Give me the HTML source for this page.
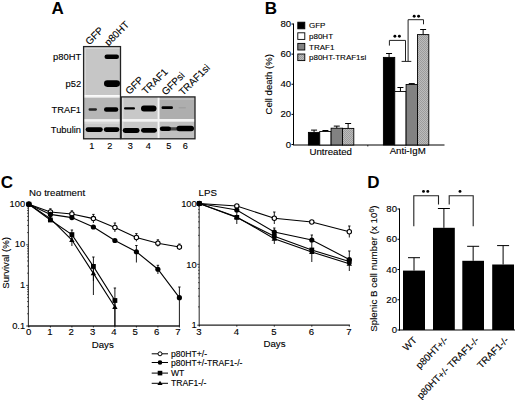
<!DOCTYPE html>
<html><head><meta charset="utf-8"><style>
html,body{margin:0;padding:0;background:#fff;}
svg{display:block;font-family:"Liberation Sans", sans-serif;}
text{stroke:#000;stroke-width:0.12px;fill:#000;}
text[font-weight=bold]{stroke:none;}
</style></head><body>
<svg width="520" height="400" viewBox="0 0 520 400">
<defs>
<filter id="bl" x="-20%" y="-50%" width="140%" height="200%"><feGaussianBlur stdDeviation="0.5"/></filter>
<pattern id="hatch" width="2" height="2" patternUnits="userSpaceOnUse"><rect width="2" height="2" fill="#bcbcbc"/><rect width="1" height="1" fill="#9c9c9c"/><rect x="1" y="1" width="1" height="1" fill="#9c9c9c"/></pattern>
</defs>
<rect width="520" height="400" fill="#fff"/>
<text x="51.4" y="14.3" font-size="17" text-anchor="start" font-weight="bold" >A</text>
<text transform="translate(89.5,45.5) rotate(-45)" font-size="10" text-anchor="start">GFP</text>
<text transform="translate(108.5,46.5) rotate(-45)" font-size="10" text-anchor="start">p80HT</text>
<text transform="translate(129.5,95) rotate(-45)" font-size="10" text-anchor="start">GFP</text>
<text transform="translate(146,95) rotate(-45)" font-size="10" text-anchor="start">TRAF1</text>
<text transform="translate(165.8,95.8) rotate(-45)" font-size="10" text-anchor="start">GFPsi</text>
<text transform="translate(183,96) rotate(-45)" font-size="10" text-anchor="start">TRAF1si</text>
<rect x="84" y="47" width="36" height="48" fill="#c6c6c6" stroke="none" stroke-width="1" />
<rect x="84" y="47" width="36" height="1.6" fill="#e2e2e2" stroke="none" stroke-width="1" />
<rect x="84" y="47" width="1.8" height="48" fill="#dadada" stroke="none" stroke-width="1" />
<rect x="84" y="95.6" width="36" height="2" fill="#f4f4f4" stroke="none" stroke-width="1" />
<rect x="84" y="97.6" width="36" height="21.8" fill="#b6b6b6" stroke="none" stroke-width="1" />
<rect x="84" y="119.4" width="36" height="2.4" fill="#f2f2f2" stroke="none" stroke-width="1" />
<rect x="84" y="121.8" width="36" height="17.2" fill="#cacaca" stroke="none" stroke-width="1" />
<rect x="84" y="121.8" width="36" height="2" fill="#d6d6d6" stroke="none" stroke-width="1" />
<rect x="122" y="97" width="36" height="22" fill="#c8c8c8" stroke="none" stroke-width="1" />
<rect x="159" y="97" width="36" height="22" fill="#aeaeae" stroke="none" stroke-width="1" />
<rect x="122" y="121.4" width="36" height="17.6" fill="#c8c8c8" stroke="none" stroke-width="1" />
<rect x="159" y="121.4" width="36" height="17.6" fill="#c0c0c0" stroke="none" stroke-width="1" />
<rect x="159" y="97.5" width="36" height="2.5" fill="#bcbcbc" stroke="none" stroke-width="1" />
<rect x="122" y="97" width="1.5" height="42" fill="#dcdcdc" stroke="none" stroke-width="1" />
<rect x="122" y="119" width="73" height="2.4" fill="#f4f4f4" stroke="none" stroke-width="1" />
<rect x="157.6" y="97" width="1.9" height="42" fill="#f6f6f6" stroke="none" stroke-width="1" />
<rect x="104.5" y="54.55" width="14.5" height="4.5" rx="2.25" ry="2.25" fill="#000" opacity="1" filter="url(#bl)"/>
<rect x="104" y="80.3" width="16" height="6.6" rx="3.3" ry="3.3" fill="#000" opacity="1" filter="url(#bl)"/>
<rect x="88.5" y="108.35" width="8.5" height="2.3" rx="1.15" ry="1.15" fill="#222" opacity="1" filter="url(#bl)"/>
<rect x="104" y="107.3" width="14.299999999999997" height="4.4" rx="2.2" ry="2.2" fill="#000" opacity="1" filter="url(#bl)"/>
<rect x="85.6" y="127.3" width="17.200000000000003" height="4.6" rx="2.3" ry="2.3" fill="#000" opacity="1" filter="url(#bl)"/>
<rect x="103.8" y="127.3" width="15.600000000000009" height="4.6" rx="2.3" ry="2.3" fill="#000" opacity="1" filter="url(#bl)"/>
<rect x="124" y="107.30000000000001" width="11" height="2.2" rx="1.1" ry="1.1" fill="#000" opacity="1" filter="url(#bl)"/>
<rect x="141" y="105.6" width="15.5" height="5.8" rx="2.9" ry="2.9" fill="#000" opacity="1" filter="url(#bl)"/>
<rect x="161.5" y="106.3" width="11.5" height="2.8" rx="1.4" ry="1.4" fill="#000" opacity="1" filter="url(#bl)"/>
<rect x="178.5" y="107.0" width="7.5" height="1.6" rx="0.8" ry="0.8" fill="#888" opacity="0.35" filter="url(#bl)"/>
<rect x="122.7" y="128.1" width="16.89999999999999" height="4.8" rx="2.4" ry="2.4" fill="#000" opacity="1" filter="url(#bl)"/>
<rect x="141" y="127.9" width="16" height="4.8" rx="2.4" ry="2.4" fill="#000" opacity="1" filter="url(#bl)"/>
<rect x="165" y="127.20000000000002" width="14" height="3.2" rx="1.6" ry="1.6" fill="#444" opacity="1" filter="url(#bl)"/>
<rect x="159.8" y="126.39999999999999" width="11.199999999999989" height="4.6" rx="2.3" ry="2.3" fill="#000" opacity="1" filter="url(#bl)"/>
<rect x="176.5" y="125.7" width="17.5" height="5.6" rx="2.8" ry="2.8" fill="#000" opacity="1" filter="url(#bl)"/>
<rect x="83.6" y="46.6" width="36.9" height="92.2" fill="none" stroke="#222" stroke-width="1.3" />
<rect x="121.2" y="96.9" width="73.8" height="41.9" fill="none" stroke="#222" stroke-width="1.3" />
<text x="81.2" y="59.8" font-size="9.4" text-anchor="end" font-weight="normal" >p80HT</text>
<text x="81.2" y="86.7" font-size="9.4" text-anchor="end" font-weight="normal" >p52</text>
<text x="81" y="112.5" font-size="9.3" text-anchor="end" font-weight="normal" >TRAF1</text>
<text x="81" y="133" font-size="9.3" text-anchor="end" font-weight="normal" >Tubulin</text>
<text x="91.8" y="149.4" font-size="9.2" text-anchor="middle" font-weight="normal" >1</text>
<text x="109.9" y="149.4" font-size="9.2" text-anchor="middle" font-weight="normal" >2</text>
<text x="130.4" y="149.4" font-size="9.2" text-anchor="middle" font-weight="normal" >3</text>
<text x="148.2" y="149.4" font-size="9.2" text-anchor="middle" font-weight="normal" >4</text>
<text x="168.8" y="149.4" font-size="9.2" text-anchor="middle" font-weight="normal" >5</text>
<text x="185.2" y="149.4" font-size="9.2" text-anchor="middle" font-weight="normal" >6</text>
<text x="264.8" y="14.1" font-size="17" text-anchor="start" font-weight="bold" >B</text>
<line x1="293.5" y1="23.519999999999996" x2="293.5" y2="145" stroke="#000" stroke-width="1"/>
<line x1="293" y1="145" x2="444.5" y2="145" stroke="#000" stroke-width="1"/>
<line x1="291.5" y1="144.5" x2="293.5" y2="144.5" stroke="#000" stroke-width="1"/>
<text x="291.2" y="147.5" font-size="9.6" text-anchor="end" font-weight="normal" >0</text>
<line x1="291.5" y1="114.38" x2="293.5" y2="114.38" stroke="#000" stroke-width="1"/>
<text x="291.2" y="117.38" font-size="9.6" text-anchor="end" font-weight="normal" >20</text>
<line x1="291.5" y1="84.25999999999999" x2="293.5" y2="84.25999999999999" stroke="#000" stroke-width="1"/>
<text x="291.2" y="87.25999999999999" font-size="9.6" text-anchor="end" font-weight="normal" >40</text>
<line x1="291.5" y1="54.14" x2="293.5" y2="54.14" stroke="#000" stroke-width="1"/>
<text x="291.2" y="57.14" font-size="9.6" text-anchor="end" font-weight="normal" >60</text>
<line x1="291.5" y1="24.019999999999996" x2="293.5" y2="24.019999999999996" stroke="#000" stroke-width="1"/>
<text x="291.2" y="27.019999999999996" font-size="9.6" text-anchor="end" font-weight="normal" >80</text>
<line x1="367.8" y1="145" x2="367.8" y2="146.5" stroke="#000" stroke-width="0.8"/>
<text transform="translate(271.8,84.3) rotate(-90)" font-size="9.5" text-anchor="middle">Cell death (%)</text>
<rect x="297.8" y="22.2" width="7" height="6.6" fill="#000" stroke="#000" stroke-width="0.9" />
<text x="309" y="28.4" font-size="8" text-anchor="start" font-weight="normal" >GFP</text>
<rect x="297.8" y="32.800000000000004" width="7" height="6.6" fill="#fff" stroke="#000" stroke-width="0.9" />
<text x="309" y="39.0" font-size="8" text-anchor="start" font-weight="normal" >p80HT</text>
<rect x="297.8" y="43.400000000000006" width="7" height="6.6" fill="#828282" stroke="#000" stroke-width="0.9" />
<text x="309" y="49.6" font-size="8" text-anchor="start" font-weight="normal" >TRAF1</text>
<rect x="297.8" y="54.0" width="7" height="6.6" fill="url(#hatch)" stroke="#000" stroke-width="0.9" />
<text x="309" y="60.199999999999996" font-size="8" text-anchor="start" font-weight="normal" >p80HT-TRAF1si</text>
<line x1="314.075" y1="130.1" x2="314.075" y2="132.4" stroke="#000" stroke-width="1"/>
<line x1="311.075" y1="130.1" x2="317.075" y2="130.1" stroke="#000" stroke-width="1"/>
<rect x="308.4" y="132.4" width="11.35" height="12.599999999999994" fill="#000" stroke="#000" stroke-width="0.9" />
<line x1="325.425" y1="130.5" x2="325.425" y2="131.5" stroke="#000" stroke-width="1"/>
<line x1="322.425" y1="130.5" x2="328.425" y2="130.5" stroke="#000" stroke-width="1"/>
<rect x="319.75" y="131.5" width="11.35" height="13.5" fill="#fff" stroke="#000" stroke-width="0.9" />
<line x1="336.775" y1="126.1" x2="336.775" y2="128.2" stroke="#000" stroke-width="1"/>
<line x1="333.775" y1="126.1" x2="339.775" y2="126.1" stroke="#000" stroke-width="1"/>
<rect x="331.09999999999997" y="128.2" width="11.35" height="16.80000000000001" fill="#828282" stroke="#000" stroke-width="0.9" />
<line x1="348.125" y1="123.5" x2="348.125" y2="128.4" stroke="#000" stroke-width="1"/>
<line x1="345.125" y1="123.5" x2="351.125" y2="123.5" stroke="#000" stroke-width="1"/>
<rect x="342.45" y="128.4" width="11.35" height="16.599999999999994" fill="url(#hatch)" stroke="#000" stroke-width="0.9" />
<line x1="389.075" y1="53.5" x2="389.075" y2="57.4" stroke="#000" stroke-width="1"/>
<line x1="386.075" y1="53.5" x2="392.075" y2="53.5" stroke="#000" stroke-width="1"/>
<rect x="383.4" y="57.4" width="11.35" height="87.6" fill="#000" stroke="#000" stroke-width="0.9" />
<line x1="400.425" y1="87.5" x2="400.425" y2="91.5" stroke="#000" stroke-width="1"/>
<line x1="397.425" y1="87.5" x2="403.425" y2="87.5" stroke="#000" stroke-width="1"/>
<rect x="394.75" y="91.5" width="11.35" height="53.5" fill="#fff" stroke="#000" stroke-width="0.9" />
<line x1="411.775" y1="83.6" x2="411.775" y2="84.5" stroke="#000" stroke-width="1"/>
<line x1="408.775" y1="83.6" x2="414.775" y2="83.6" stroke="#000" stroke-width="1"/>
<rect x="406.09999999999997" y="84.5" width="11.35" height="60.5" fill="#828282" stroke="#000" stroke-width="0.9" />
<line x1="423.125" y1="29.5" x2="423.125" y2="34.6" stroke="#000" stroke-width="1"/>
<line x1="420.125" y1="29.5" x2="426.125" y2="29.5" stroke="#000" stroke-width="1"/>
<rect x="417.45" y="34.6" width="11.35" height="110.4" fill="url(#hatch)" stroke="#000" stroke-width="0.9" />
<text x="330.7" y="154.6" font-size="9.7" text-anchor="middle" font-weight="normal" >Untreated</text>
<text x="407.7" y="154.3" font-size="9.7" text-anchor="middle" font-weight="normal" >Anti-IgM</text>
<path d="M389.4 45.6 V40.4 H405.5 V61.4" fill="none" stroke="#222" stroke-width="1"/>
<line x1="401.6" y1="61.4" x2="411.3" y2="61.4" stroke="#222" stroke-width="1"/>
<path d="M408.1 61.4 V19.7 H423.5 V24.3" fill="none" stroke="#222" stroke-width="1"/>
<circle cx="394.9" cy="36.3" r="1.45" fill="#000"/>
<circle cx="399.4" cy="36.3" r="1.45" fill="#000"/>
<circle cx="414.2" cy="16.2" r="1.45" fill="#000"/>
<circle cx="418.6" cy="16.2" r="1.45" fill="#000"/>
<text x="0.7" y="187.5" font-size="17" text-anchor="start" font-weight="bold" >C</text>
<text x="29.1" y="196.4" font-size="9.7" text-anchor="start" font-weight="normal" >No treatment</text>
<text x="198.6" y="196.4" font-size="9.7" text-anchor="start" font-weight="normal" >LPS</text>
<line x1="28.4" y1="204.2" x2="28.4" y2="326.5" stroke="#3a3a3a" stroke-width="1.1"/>
<line x1="27.8" y1="326" x2="179.6" y2="326" stroke="#222" stroke-width="1.3"/>
<line x1="26.1" y1="326.0" x2="28.3" y2="326.0" stroke="#000" stroke-width="0.7"/>
<line x1="27.1" y1="313.7781821760424" x2="28.3" y2="313.7781821760424" stroke="#000" stroke-width="0.7"/>
<line x1="27.1" y1="306.6288770583817" x2="28.3" y2="306.6288770583817" stroke="#000" stroke-width="0.7"/>
<line x1="27.1" y1="301.5563643520847" x2="28.3" y2="301.5563643520847" stroke="#000" stroke-width="0.7"/>
<line x1="27.1" y1="297.6218178239576" x2="28.3" y2="297.6218178239576" stroke="#000" stroke-width="0.7"/>
<line x1="27.1" y1="294.4070592344241" x2="28.3" y2="294.4070592344241" stroke="#000" stroke-width="0.7"/>
<line x1="27.1" y1="291.6890195754212" x2="28.3" y2="291.6890195754212" stroke="#000" stroke-width="0.7"/>
<line x1="27.1" y1="289.3345465281271" x2="28.3" y2="289.3345465281271" stroke="#000" stroke-width="0.7"/>
<line x1="27.1" y1="287.2577541167634" x2="28.3" y2="287.2577541167634" stroke="#000" stroke-width="0.7"/>
<line x1="26.1" y1="285.4" x2="28.3" y2="285.4" stroke="#000" stroke-width="0.7"/>
<line x1="27.1" y1="273.17818217604236" x2="28.3" y2="273.17818217604236" stroke="#000" stroke-width="0.7"/>
<line x1="27.1" y1="266.0288770583817" x2="28.3" y2="266.0288770583817" stroke="#000" stroke-width="0.7"/>
<line x1="27.1" y1="260.95636435208473" x2="28.3" y2="260.95636435208473" stroke="#000" stroke-width="0.7"/>
<line x1="27.1" y1="257.02181782395763" x2="28.3" y2="257.02181782395763" stroke="#000" stroke-width="0.7"/>
<line x1="27.1" y1="253.80705923442406" x2="28.3" y2="253.80705923442406" stroke="#000" stroke-width="0.7"/>
<line x1="27.1" y1="251.08901957542116" x2="28.3" y2="251.08901957542116" stroke="#000" stroke-width="0.7"/>
<line x1="27.1" y1="248.73454652812708" x2="28.3" y2="248.73454652812708" stroke="#000" stroke-width="0.7"/>
<line x1="27.1" y1="246.6577541167634" x2="28.3" y2="246.6577541167634" stroke="#000" stroke-width="0.7"/>
<line x1="26.1" y1="244.79999999999998" x2="28.3" y2="244.79999999999998" stroke="#000" stroke-width="0.7"/>
<line x1="27.1" y1="232.57818217604236" x2="28.3" y2="232.57818217604236" stroke="#000" stroke-width="0.7"/>
<line x1="27.1" y1="225.4288770583817" x2="28.3" y2="225.4288770583817" stroke="#000" stroke-width="0.7"/>
<line x1="27.1" y1="220.3563643520847" x2="28.3" y2="220.3563643520847" stroke="#000" stroke-width="0.7"/>
<line x1="27.1" y1="216.42181782395764" x2="28.3" y2="216.42181782395764" stroke="#000" stroke-width="0.7"/>
<line x1="27.1" y1="213.20705923442407" x2="28.3" y2="213.20705923442407" stroke="#000" stroke-width="0.7"/>
<line x1="27.1" y1="210.48901957542117" x2="28.3" y2="210.48901957542117" stroke="#000" stroke-width="0.7"/>
<line x1="27.1" y1="208.1345465281271" x2="28.3" y2="208.1345465281271" stroke="#000" stroke-width="0.7"/>
<line x1="27.1" y1="206.0577541167634" x2="28.3" y2="206.0577541167634" stroke="#000" stroke-width="0.7"/>
<line x1="26.1" y1="204.2" x2="28.3" y2="204.2" stroke="#000" stroke-width="0.7"/>
<line x1="28.9" y1="326" x2="28.9" y2="327.5" stroke="#000" stroke-width="0.8"/>
<text x="28.6" y="335.4" font-size="9.6" text-anchor="middle" font-weight="normal" >0</text>
<line x1="50.4" y1="326" x2="50.4" y2="327.5" stroke="#000" stroke-width="0.8"/>
<text x="49.93" y="335.4" font-size="9.6" text-anchor="middle" font-weight="normal" >1</text>
<line x1="71.9" y1="326" x2="71.9" y2="327.5" stroke="#000" stroke-width="0.8"/>
<text x="71.25999999999999" y="335.4" font-size="9.6" text-anchor="middle" font-weight="normal" >2</text>
<line x1="93.4" y1="326" x2="93.4" y2="327.5" stroke="#000" stroke-width="0.8"/>
<text x="92.59" y="335.4" font-size="9.6" text-anchor="middle" font-weight="normal" >3</text>
<line x1="114.9" y1="326" x2="114.9" y2="327.5" stroke="#000" stroke-width="0.8"/>
<text x="113.91999999999999" y="335.4" font-size="9.6" text-anchor="middle" font-weight="normal" >4</text>
<line x1="136.4" y1="326" x2="136.4" y2="327.5" stroke="#000" stroke-width="0.8"/>
<text x="135.25" y="335.4" font-size="9.6" text-anchor="middle" font-weight="normal" >5</text>
<line x1="157.9" y1="326" x2="157.9" y2="327.5" stroke="#000" stroke-width="0.8"/>
<text x="156.57999999999998" y="335.4" font-size="9.6" text-anchor="middle" font-weight="normal" >6</text>
<line x1="179.4" y1="326" x2="179.4" y2="327.5" stroke="#000" stroke-width="0.8"/>
<text x="177.91" y="335.4" font-size="9.6" text-anchor="middle" font-weight="normal" >7</text>
<text x="25.2" y="206.7" font-size="9.4" text-anchor="end" font-weight="normal" >100</text>
<text x="25.2" y="247.29999999999998" font-size="9.4" text-anchor="end" font-weight="normal" >10</text>
<text x="25.2" y="287.9" font-size="9.4" text-anchor="end" font-weight="normal" >1</text>
<text x="25.2" y="328.5" font-size="9.4" text-anchor="end" font-weight="normal" >0.1</text>
<text x="102.7" y="347.9" font-size="9.7" text-anchor="middle" font-weight="normal" >Days</text>
<text transform="translate(8.9,262.9) rotate(-90)" font-size="9.6" text-anchor="middle">Survival (%)</text>
<line x1="199.2" y1="203.5" x2="199.2" y2="325.7" stroke="#3a3a3a" stroke-width="1.1"/>
<line x1="198.8" y1="325.2" x2="349.9" y2="325.2" stroke="#222" stroke-width="1.3"/>
<line x1="197.10000000000002" y1="325.2" x2="199.3" y2="325.2" stroke="#000" stroke-width="0.7"/>
<line x1="198.10000000000002" y1="306.8823247638467" x2="199.3" y2="306.8823247638467" stroke="#000" stroke-width="0.7"/>
<line x1="198.10000000000002" y1="296.16717165030855" x2="199.3" y2="296.16717165030855" stroke="#000" stroke-width="0.7"/>
<line x1="198.10000000000002" y1="288.5646495276935" x2="199.3" y2="288.5646495276935" stroke="#000" stroke-width="0.7"/>
<line x1="198.10000000000002" y1="282.6676752361533" x2="199.3" y2="282.6676752361533" stroke="#000" stroke-width="0.7"/>
<line x1="198.10000000000002" y1="277.8494964141553" x2="199.3" y2="277.8494964141553" stroke="#000" stroke-width="0.7"/>
<line x1="198.10000000000002" y1="273.7757842651325" x2="199.3" y2="273.7757842651325" stroke="#000" stroke-width="0.7"/>
<line x1="198.10000000000002" y1="270.24697429154025" x2="199.3" y2="270.24697429154025" stroke="#000" stroke-width="0.7"/>
<line x1="198.10000000000002" y1="267.1343433006171" x2="199.3" y2="267.1343433006171" stroke="#000" stroke-width="0.7"/>
<line x1="197.10000000000002" y1="264.35" x2="199.3" y2="264.35" stroke="#000" stroke-width="0.7"/>
<line x1="198.10000000000002" y1="246.03232476384676" x2="199.3" y2="246.03232476384676" stroke="#000" stroke-width="0.7"/>
<line x1="198.10000000000002" y1="235.31717165030855" x2="199.3" y2="235.31717165030855" stroke="#000" stroke-width="0.7"/>
<line x1="198.10000000000002" y1="227.7146495276935" x2="199.3" y2="227.7146495276935" stroke="#000" stroke-width="0.7"/>
<line x1="198.10000000000002" y1="221.81767523615326" x2="199.3" y2="221.81767523615326" stroke="#000" stroke-width="0.7"/>
<line x1="198.10000000000002" y1="216.9994964141553" x2="199.3" y2="216.9994964141553" stroke="#000" stroke-width="0.7"/>
<line x1="198.10000000000002" y1="212.92578426513248" x2="199.3" y2="212.92578426513248" stroke="#000" stroke-width="0.7"/>
<line x1="198.10000000000002" y1="209.39697429154023" x2="199.3" y2="209.39697429154023" stroke="#000" stroke-width="0.7"/>
<line x1="198.10000000000002" y1="206.28434330061708" x2="199.3" y2="206.28434330061708" stroke="#000" stroke-width="0.7"/>
<line x1="197.10000000000002" y1="203.5" x2="199.3" y2="203.5" stroke="#000" stroke-width="0.7"/>
<line x1="199.3" y1="325.2" x2="199.3" y2="326.7" stroke="#000" stroke-width="0.8"/>
<text x="198.8" y="335.1" font-size="9.6" text-anchor="middle" font-weight="normal" >3</text>
<line x1="236.8" y1="325.2" x2="236.8" y2="326.7" stroke="#000" stroke-width="0.8"/>
<text x="236.3" y="335.1" font-size="9.6" text-anchor="middle" font-weight="normal" >4</text>
<line x1="274.3" y1="325.2" x2="274.3" y2="326.7" stroke="#000" stroke-width="0.8"/>
<text x="273.8" y="335.1" font-size="9.6" text-anchor="middle" font-weight="normal" >5</text>
<line x1="311.8" y1="325.2" x2="311.8" y2="326.7" stroke="#000" stroke-width="0.8"/>
<text x="311.3" y="335.1" font-size="9.6" text-anchor="middle" font-weight="normal" >6</text>
<line x1="349.3" y1="325.2" x2="349.3" y2="326.7" stroke="#000" stroke-width="0.8"/>
<text x="348.8" y="335.1" font-size="9.6" text-anchor="middle" font-weight="normal" >7</text>
<text x="196.8" y="206.7" font-size="9.4" text-anchor="end" font-weight="normal" >100</text>
<text x="196.8" y="267.55" font-size="9.4" text-anchor="end" font-weight="normal" >10</text>
<text x="196.8" y="328.4" font-size="9.4" text-anchor="end" font-weight="normal" >1</text>
<text x="274.5" y="347.2" font-size="9.7" text-anchor="middle" font-weight="normal" >Days</text>
<polyline points="28.90,204.20 50.40,212.00 71.90,214.00 93.40,218.60 114.90,227.50 136.40,237.50 157.90,243.20 179.40,247.00" fill="none" stroke="#000" stroke-width="1.1"/>
<polyline points="28.90,204.20 50.40,214.40 71.90,217.60 93.40,227.00 114.90,240.50 136.40,251.75 157.90,269.25 179.40,297.70" fill="none" stroke="#000" stroke-width="1.1"/>
<polyline points="28.90,204.20 50.40,218.60 71.90,240.00 93.40,273.40 114.90,307.00" fill="none" stroke="#000" stroke-width="1.1"/>
<polyline points="28.90,204.20 50.40,220.00 71.90,234.60 93.40,266.40 114.90,300.50" fill="none" stroke="#000" stroke-width="1.1"/>
<line x1="50.4" y1="208.8" x2="50.4" y2="215.2" stroke="#000" stroke-width="0.9"/>
<line x1="49.199999999999996" y1="208.8" x2="51.6" y2="208.8" stroke="#000" stroke-width="0.9"/>
<line x1="71.9" y1="210.8" x2="71.9" y2="217.2" stroke="#000" stroke-width="0.9"/>
<line x1="70.7" y1="210.8" x2="73.10000000000001" y2="210.8" stroke="#000" stroke-width="0.9"/>
<line x1="93.4" y1="214.4" x2="93.4" y2="223" stroke="#000" stroke-width="0.9"/>
<line x1="92.2" y1="214.4" x2="94.60000000000001" y2="214.4" stroke="#000" stroke-width="0.9"/>
<line x1="114.9" y1="223" x2="114.9" y2="232" stroke="#000" stroke-width="0.9"/>
<line x1="113.7" y1="223" x2="116.10000000000001" y2="223" stroke="#000" stroke-width="0.9"/>
<line x1="136.4" y1="233.6" x2="136.4" y2="241.4" stroke="#000" stroke-width="0.9"/>
<line x1="135.20000000000002" y1="233.6" x2="137.6" y2="233.6" stroke="#000" stroke-width="0.9"/>
<line x1="157.9" y1="239.8" x2="157.9" y2="246.6" stroke="#000" stroke-width="0.9"/>
<line x1="156.70000000000002" y1="239.8" x2="159.1" y2="239.8" stroke="#000" stroke-width="0.9"/>
<line x1="179.4" y1="244" x2="179.4" y2="250" stroke="#000" stroke-width="0.9"/>
<line x1="178.20000000000002" y1="244" x2="180.6" y2="244" stroke="#000" stroke-width="0.9"/>
<line x1="136.4" y1="245.5" x2="136.4" y2="262.5" stroke="#000" stroke-width="0.9"/>
<line x1="135.20000000000002" y1="245.5" x2="137.6" y2="245.5" stroke="#000" stroke-width="0.9"/>
<line x1="157.9" y1="265.3" x2="157.9" y2="274" stroke="#000" stroke-width="0.9"/>
<line x1="156.70000000000002" y1="265.3" x2="159.1" y2="265.3" stroke="#000" stroke-width="0.9"/>
<line x1="179.4" y1="287" x2="179.4" y2="326" stroke="#000" stroke-width="0.9"/>
<line x1="178.20000000000002" y1="287" x2="180.6" y2="287" stroke="#000" stroke-width="0.9"/>
<line x1="71.9" y1="236" x2="71.9" y2="246" stroke="#000" stroke-width="0.9"/>
<line x1="70.7" y1="236" x2="73.10000000000001" y2="236" stroke="#000" stroke-width="0.9"/>
<line x1="93.4" y1="268" x2="93.4" y2="295" stroke="#000" stroke-width="0.9"/>
<line x1="92.2" y1="268" x2="94.60000000000001" y2="268" stroke="#000" stroke-width="0.9"/>
<line x1="114.9" y1="300" x2="114.9" y2="326" stroke="#000" stroke-width="0.9"/>
<line x1="113.7" y1="300" x2="116.10000000000001" y2="300" stroke="#000" stroke-width="0.9"/>
<line x1="71.9" y1="230" x2="71.9" y2="240" stroke="#000" stroke-width="0.9"/>
<line x1="70.7" y1="230" x2="73.10000000000001" y2="230" stroke="#000" stroke-width="0.9"/>
<line x1="93.4" y1="257" x2="93.4" y2="281" stroke="#000" stroke-width="0.9"/>
<line x1="92.2" y1="257" x2="94.60000000000001" y2="257" stroke="#000" stroke-width="0.9"/>
<line x1="114.9" y1="288" x2="114.9" y2="326" stroke="#000" stroke-width="0.9"/>
<line x1="113.7" y1="288" x2="116.10000000000001" y2="288" stroke="#000" stroke-width="0.9"/>
<circle cx="28.90" cy="204.20" r="2.2" fill="#fff" stroke="#000" stroke-width="1.1"/>
<circle cx="50.40" cy="212.00" r="2.2" fill="#fff" stroke="#000" stroke-width="1.1"/>
<circle cx="71.90" cy="214.00" r="2.2" fill="#fff" stroke="#000" stroke-width="1.1"/>
<circle cx="93.40" cy="218.60" r="2.2" fill="#fff" stroke="#000" stroke-width="1.1"/>
<circle cx="114.90" cy="227.50" r="2.2" fill="#fff" stroke="#000" stroke-width="1.1"/>
<circle cx="136.40" cy="237.50" r="2.2" fill="#fff" stroke="#000" stroke-width="1.1"/>
<circle cx="157.90" cy="243.20" r="2.2" fill="#fff" stroke="#000" stroke-width="1.1"/>
<circle cx="179.40" cy="247.00" r="2.2" fill="#fff" stroke="#000" stroke-width="1.1"/>
<circle cx="28.90" cy="204.20" r="2.6" fill="#000"/>
<circle cx="50.40" cy="214.40" r="2.6" fill="#000"/>
<circle cx="71.90" cy="217.60" r="2.6" fill="#000"/>
<circle cx="93.40" cy="227.00" r="2.6" fill="#000"/>
<circle cx="114.90" cy="240.50" r="2.6" fill="#000"/>
<circle cx="136.40" cy="251.75" r="2.6" fill="#000"/>
<circle cx="157.90" cy="269.25" r="2.6" fill="#000"/>
<circle cx="179.40" cy="297.70" r="2.6" fill="#000"/>
<path d="M28.90 201.40 L31.60 206.10 L26.20 206.10Z" fill="#000"/>
<path d="M50.40 215.80 L53.10 220.50 L47.70 220.50Z" fill="#000"/>
<path d="M71.90 237.20 L74.60 241.90 L69.20 241.90Z" fill="#000"/>
<path d="M93.40 270.60 L96.10 275.30 L90.70 275.30Z" fill="#000"/>
<path d="M114.90 304.20 L117.60 308.90 L112.20 308.90Z" fill="#000"/>
<rect x="26.50" y="201.80" width="4.8" height="4.8" fill="#000"/>
<rect x="48.00" y="217.60" width="4.8" height="4.8" fill="#000"/>
<rect x="69.50" y="232.20" width="4.8" height="4.8" fill="#000"/>
<rect x="91.00" y="264.00" width="4.8" height="4.8" fill="#000"/>
<rect x="112.50" y="298.10" width="4.8" height="4.8" fill="#000"/>
<polyline points="199.30,203.50 236.80,206.00 274.30,218.25 311.80,222.00 349.30,231.75" fill="none" stroke="#000" stroke-width="1.1"/>
<polyline points="199.30,203.50 236.80,210.00 274.30,232.00 311.80,240.00 349.30,259.50" fill="none" stroke="#000" stroke-width="1.1"/>
<polyline points="199.30,203.50 236.80,217.00 274.30,238.75 311.80,252.00 349.30,263.75" fill="none" stroke="#000" stroke-width="1.1"/>
<polyline points="199.30,203.50 236.80,217.40 274.30,236.25 311.80,250.00 349.30,261.50" fill="none" stroke="#000" stroke-width="1.1"/>
<line x1="274.3" y1="212" x2="274.3" y2="224" stroke="#000" stroke-width="0.9"/>
<line x1="273.1" y1="212" x2="275.5" y2="212" stroke="#000" stroke-width="0.9"/>
<line x1="349.3" y1="226" x2="349.3" y2="237.5" stroke="#000" stroke-width="0.9"/>
<line x1="348.1" y1="226" x2="350.5" y2="226" stroke="#000" stroke-width="0.9"/>
<line x1="236.8" y1="211" x2="236.8" y2="224" stroke="#000" stroke-width="0.9"/>
<line x1="235.60000000000002" y1="211" x2="238.0" y2="211" stroke="#000" stroke-width="0.9"/>
<line x1="274.3" y1="228" x2="274.3" y2="244" stroke="#000" stroke-width="0.9"/>
<line x1="273.1" y1="228" x2="275.5" y2="228" stroke="#000" stroke-width="0.9"/>
<line x1="311.8" y1="235" x2="311.8" y2="262" stroke="#000" stroke-width="0.9"/>
<line x1="310.6" y1="235" x2="313.0" y2="235" stroke="#000" stroke-width="0.9"/>
<line x1="349.3" y1="251" x2="349.3" y2="271" stroke="#000" stroke-width="0.9"/>
<line x1="348.1" y1="251" x2="350.5" y2="251" stroke="#000" stroke-width="0.9"/>
<circle cx="199.30" cy="203.50" r="2.2" fill="#fff" stroke="#000" stroke-width="1.1"/>
<circle cx="236.80" cy="206.00" r="2.2" fill="#fff" stroke="#000" stroke-width="1.1"/>
<circle cx="274.30" cy="218.25" r="2.2" fill="#fff" stroke="#000" stroke-width="1.1"/>
<circle cx="311.80" cy="222.00" r="2.2" fill="#fff" stroke="#000" stroke-width="1.1"/>
<circle cx="349.30" cy="231.75" r="2.2" fill="#fff" stroke="#000" stroke-width="1.1"/>
<circle cx="199.30" cy="203.50" r="2.6" fill="#000"/>
<circle cx="236.80" cy="210.00" r="2.6" fill="#000"/>
<circle cx="274.30" cy="232.00" r="2.6" fill="#000"/>
<circle cx="311.80" cy="240.00" r="2.6" fill="#000"/>
<circle cx="349.30" cy="259.50" r="2.6" fill="#000"/>
<path d="M199.30 200.70 L202.00 205.40 L196.60 205.40Z" fill="#000"/>
<path d="M236.80 214.20 L239.50 218.90 L234.10 218.90Z" fill="#000"/>
<path d="M274.30 235.95 L277.00 240.65 L271.60 240.65Z" fill="#000"/>
<path d="M311.80 249.20 L314.50 253.90 L309.10 253.90Z" fill="#000"/>
<path d="M349.30 260.95 L352.00 265.65 L346.60 265.65Z" fill="#000"/>
<rect x="196.90" y="201.10" width="4.8" height="4.8" fill="#000"/>
<rect x="234.40" y="215.00" width="4.8" height="4.8" fill="#000"/>
<rect x="271.90" y="233.85" width="4.8" height="4.8" fill="#000"/>
<rect x="309.40" y="247.60" width="4.8" height="4.8" fill="#000"/>
<rect x="346.90" y="259.10" width="4.8" height="4.8" fill="#000"/>
<line x1="151.7" y1="353.8" x2="168" y2="353.8" stroke="#000" stroke-width="1"/>
<circle cx="160" cy="353.8" r="2" fill="#fff" stroke="#000" stroke-width="1"/>
<text x="171" y="356.90000000000003" font-size="8.6" text-anchor="start" font-weight="normal" >p80HT+/-</text>
<line x1="151.7" y1="362.5" x2="168" y2="362.5" stroke="#000" stroke-width="1"/>
<circle cx="160" cy="362.5" r="2.3" fill="#000"/>
<text x="171" y="365.6" font-size="8.6" text-anchor="start" font-weight="normal" >p80HT+/-TRAF1-/-</text>
<line x1="151.7" y1="373.1" x2="168" y2="373.1" stroke="#000" stroke-width="1"/>
<rect x="157.7" y="370.8" width="4.6" height="4.6" fill="#000" stroke="none" stroke-width="1" />
<text x="171" y="376.20000000000005" font-size="8.6" text-anchor="start" font-weight="normal" >WT</text>
<line x1="151.7" y1="383.3" x2="168" y2="383.3" stroke="#000" stroke-width="1"/>
<path d="M160 380.7 L162.6 385.1 L157.4 385.1Z" fill="#000"/>
<text x="171" y="386.40000000000003" font-size="8.6" text-anchor="start" font-weight="normal" >TRAF1-/-</text>
<text x="367.2" y="188" font-size="17" text-anchor="start" font-weight="bold" >D</text>
<line x1="399.5" y1="208.5" x2="399.5" y2="330.5" stroke="#000" stroke-width="1"/>
<line x1="399" y1="330" x2="515" y2="330" stroke="#000" stroke-width="1"/>
<line x1="397.5" y1="330.0" x2="399.5" y2="330.0" stroke="#000" stroke-width="1"/>
<text x="397" y="333.0" font-size="9.6" text-anchor="end" font-weight="normal" >0</text>
<line x1="397.5" y1="299.75" x2="399.5" y2="299.75" stroke="#000" stroke-width="1"/>
<text x="397" y="302.75" font-size="9.6" text-anchor="end" font-weight="normal" >20</text>
<line x1="397.5" y1="269.5" x2="399.5" y2="269.5" stroke="#000" stroke-width="1"/>
<text x="397" y="272.5" font-size="9.6" text-anchor="end" font-weight="normal" >40</text>
<line x1="397.5" y1="239.25" x2="399.5" y2="239.25" stroke="#000" stroke-width="1"/>
<text x="397" y="242.25" font-size="9.6" text-anchor="end" font-weight="normal" >60</text>
<line x1="397.5" y1="209.0" x2="399.5" y2="209.0" stroke="#000" stroke-width="1"/>
<text x="397" y="212.0" font-size="9.6" text-anchor="end" font-weight="normal" >80</text>
<text transform="translate(377.3,268.6) rotate(-90)" font-size="9.8" text-anchor="middle">Splenic B cell number (x 10<tspan font-size="7" dy="-3.6">6</tspan><tspan dy="3.6">)</tspan></text>
<line x1="414.0" y1="257.7" x2="414.0" y2="270.6" stroke="#000" stroke-width="1"/>
<line x1="408.0" y1="257.7" x2="420.0" y2="257.7" stroke="#000" stroke-width="1"/>
<rect x="403" y="270.6" width="22" height="59.39999999999998" fill="#000" stroke="none" stroke-width="1" />
<line x1="443.9" y1="208.5" x2="443.9" y2="227.8" stroke="#000" stroke-width="1"/>
<line x1="437.9" y1="208.5" x2="449.9" y2="208.5" stroke="#000" stroke-width="1"/>
<rect x="433" y="227.8" width="21.80000000000001" height="102.19999999999999" fill="#000" stroke="none" stroke-width="1" />
<line x1="473.15" y1="246.3" x2="473.15" y2="260.8" stroke="#000" stroke-width="1"/>
<line x1="467.15" y1="246.3" x2="479.15" y2="246.3" stroke="#000" stroke-width="1"/>
<rect x="462.3" y="260.8" width="21.69999999999999" height="69.19999999999999" fill="#000" stroke="none" stroke-width="1" />
<line x1="503.1" y1="245.6" x2="503.1" y2="264.5" stroke="#000" stroke-width="1"/>
<line x1="497.1" y1="245.6" x2="509.1" y2="245.6" stroke="#000" stroke-width="1"/>
<rect x="492.2" y="264.5" width="21.80000000000001" height="65.5" fill="#000" stroke="none" stroke-width="1" />
<path d="M413.8 226.3 V195.7 H438.5 V204.5" fill="none" stroke="#222" stroke-width="1.1"/>
<path d="M449.2 204.5 V195.7 H473.2 V226.3" fill="none" stroke="#222" stroke-width="1.1"/>
<circle cx="423.5" cy="191.4" r="1.45" fill="#000"/>
<circle cx="427.8" cy="191.4" r="1.45" fill="#000"/>
<circle cx="460" cy="191.4" r="1.45" fill="#000"/>
<text transform="translate(417.4,340.8) rotate(-45)" font-size="9.7" text-anchor="end">WT</text>
<text transform="translate(448.6,340.5) rotate(-45)" font-size="9.7" text-anchor="end">p80HT+/-</text>
<text transform="translate(479.6,340.8) rotate(-45)" font-size="9.7" text-anchor="end">p80HT+/- TRAF1-/-</text>
<text transform="translate(509.3,340.8) rotate(-45)" font-size="9.7" text-anchor="end">TRAF1-/-</text>
</svg>
</body></html>
